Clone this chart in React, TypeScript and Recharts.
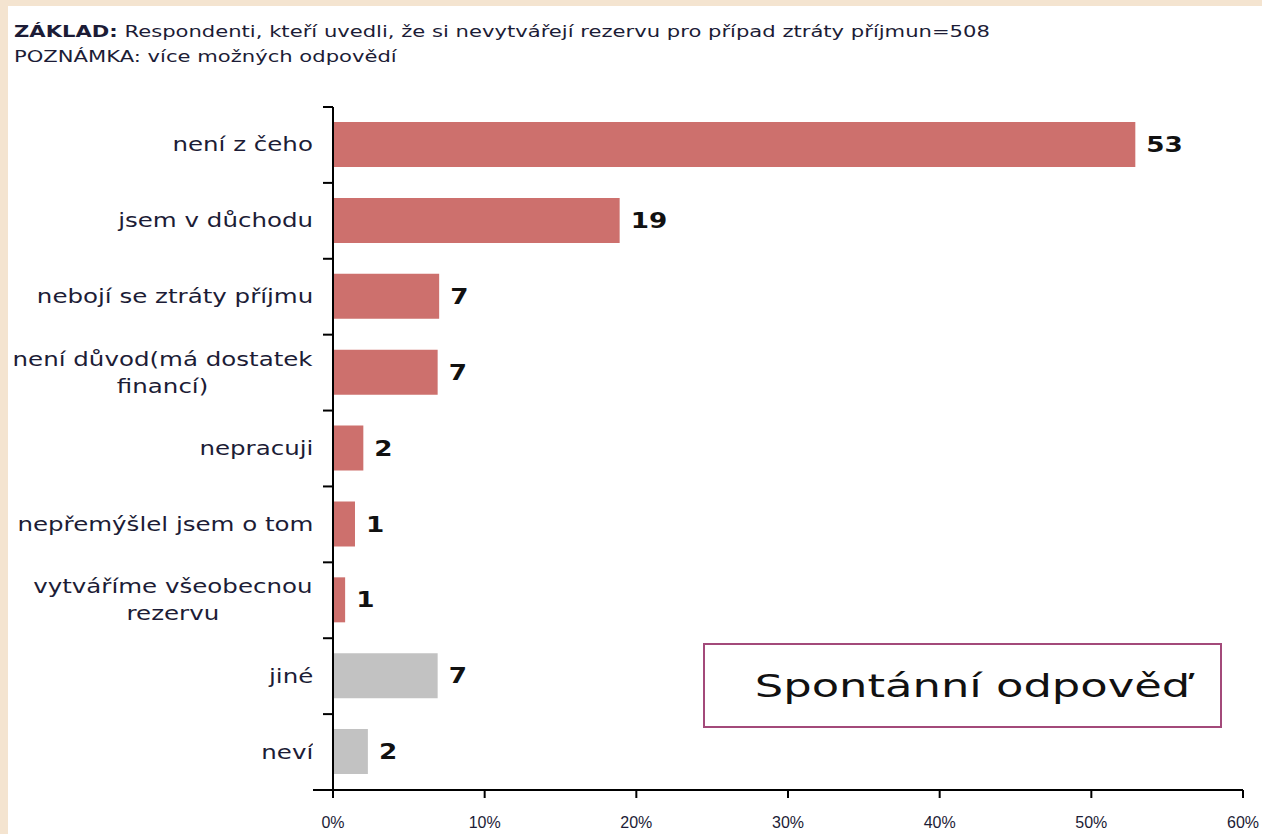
import React from "react";
import { BarChart, Bar, XAxis, YAxis, Cell, LabelList } from "recharts";

// answers as shown on the y axis (\n = line break)
const categories = [
  "není z čeho",
  "jsem v důchodu",
  "nebojí se ztráty příjmu",
  "není důvod(má dostatek\nfinancí)",
  "nepracuji",
  "nepřemýšlel jsem o tom",
  "vytváříme všeobecnou\nrezervu",
  "jiné",
  "neví",
];
// bar lengths in % and the rounded labels printed next to them
const shares = [52.9, 18.9, 7.0, 6.9, 2.0, 1.45, 0.8, 6.9, 2.3];
const printed = [53, 19, 7, 7, 2, 1, 1, 7, 2];
const isOther = [false, false, false, false, false, false, false, true, true];
const xTicks = [0, 10, 20, 30, 40, 50, 60];

const W = 1262;
const H = 834;
const PLOT_TOP = 107;
const PLOT_BOTTOM = 790;
const AXIS_X = 333;
const PLOT_RIGHT = 1243;
const BAND = (PLOT_BOTTOM - PLOT_TOP) / categories.length;

const FONT = "'DejaVu Sans', Verdana, sans-serif";
const TXT = "#1c1c36";
const RED = "#cd706d";
const GREY = "#c2c2c2";

const data = categories.map((label, i) => ({
  label,
  share: shares[i],
  printed: printed[i],
  other: isOther[i],
}));

function YTick(props: any) {
  const { y, payload, index } = props;
  const lines = String(payload.value).split("\n");
  return (
    <g>
      <line x1={AXIS_X - 10} x2={AXIS_X} y1={y - BAND / 2} y2={y - BAND / 2} stroke="#000" strokeWidth={2} />
      {index === categories.length - 1 && (
        <line x1={AXIS_X - 20} x2={AXIS_X} y1={y + BAND / 2} y2={y + BAND / 2} stroke="#000" strokeWidth={2} />
      )}
      <foreignObject x={0} y={y - 32} width={AXIS_X - 20} height={64}>
        <div
          style={{
            width: "100%",
            height: "100%",
            display: "flex",
            justifyContent: "flex-end",
            alignItems: "center",
          }}
        >
          <div
            style={{
              textAlign: "center",
              fontFamily: FONT,
              fontSize: 19,
              lineHeight: "27px",
              color: TXT,
              whiteSpace: "nowrap",
              transform: "scaleX(1.29)",
              transformOrigin: "right center",
            }}
          >
            {lines.map((l, i) => (
              <div key={i}>{l}</div>
            ))}
          </div>
        </div>
      </foreignObject>
    </g>
  );
}

function XTick(props: any) {
  const { x, payload } = props;
  return (
    <text
      x={x}
      y={PLOT_BOTTOM + 38}
      textAnchor="middle"
      fontFamily="'Liberation Sans', Arial, sans-serif"
      fontSize={16}
      fill={TXT}
    >
      {payload.value}%
    </text>
  );
}

function ValueLabel(props: any) {
  const { x, y, width, height, value } = props;
  const lx = x + width + 11;
  const ly = y + height / 2;
  return (
    <text
      transform={`translate(${lx},${ly}) scale(1.25,1)`}
      dy="0.36em"
      fontFamily={FONT}
      fontWeight="bold"
      fontSize={21}
      fill="#111"
    >
      {value}
    </text>
  );
}

export default function App() {
  return (
    <div style={{ position: "absolute", left: 0, top: 0, width: W, height: H, background: "#fff", overflow: "hidden" }}>
      <div style={{ position: "absolute", left: 0, top: 0, width: W, height: 6, background: "#f4e4d0" }} />
      <div style={{ position: "absolute", left: 0, top: 0, width: 8, height: H, background: "#f4e4d0" }} />

      <svg width={W} height={100} style={{ position: "absolute", left: 0, top: 0 }}>
        <text transform="translate(14,37) scale(1.28,1)" fontFamily={FONT} fontSize={16.5} fill={TXT}>
          <tspan fontWeight="bold">ZÁKLAD:</tspan> Respondenti, kteří uvedli, že si nevytvářejí rezervu pro případ ztráty příjmun=508
        </text>
        <text transform="translate(14,62) scale(1.28,1)" fontFamily={FONT} fontSize={16.5} fill={TXT}>
          POZNÁMKA: více možných odpovědí
        </text>
      </svg>

      <div style={{ position: "absolute", left: 0, top: 0 }}>
        <BarChart
          width={W}
          height={H}
          data={data}
          layout="vertical"
          margin={{ top: PLOT_TOP, right: W - PLOT_RIGHT, bottom: 0, left: 0 }}
          barCategoryGap={0}
        >
          <XAxis
            type="number"
            domain={[0, 60]}
            ticks={xTicks}
            height={H - PLOT_BOTTOM}
            axisLine={{ stroke: "#000", strokeWidth: 2 }}
            tickLine={{ stroke: "#000", strokeWidth: 2 }}
            tickSize={8}
            tick={<XTick />}
            interval={0}
          />
          <YAxis
            type="category"
            dataKey="label"
            width={AXIS_X}
            axisLine={{ stroke: "#000", strokeWidth: 2 }}
            tickLine={false}
            tick={<YTick />}
            interval={0}
          />
          <Bar dataKey="share" barSize={45} isAnimationActive={false}>
            {data.map((d, i) => (
              <Cell key={i} fill={d.other ? GREY : RED} />
            ))}
            <LabelList dataKey="printed" content={<ValueLabel />} />
          </Bar>
        </BarChart>
      </div>

      <div
        style={{
          position: "absolute",
          left: 703,
          top: 643,
          width: 519,
          height: 85,
          boxSizing: "border-box",
          border: "2px solid #a34a7a",
          display: "flex",
          alignItems: "center",
          justifyContent: "center",
          paddingLeft: 20,
          background: "#fff",
        }}
      >
        <span
          style={{
            fontFamily: FONT,
            fontSize: 32,
            color: "#111",
            transform: "scaleX(1.4)",
            display: "inline-block",
          }}
        >
          Spontánní odpověď
        </span>
      </div>
    </div>
  );
}
